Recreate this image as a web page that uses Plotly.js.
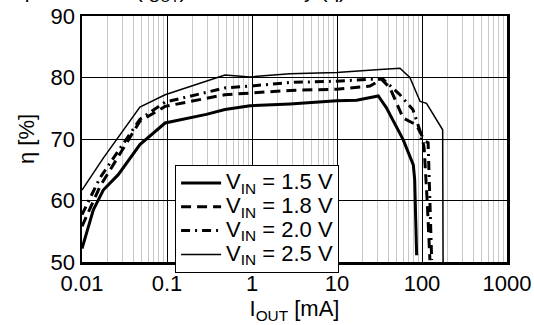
<!DOCTYPE html>
<html>
<head>
<meta charset="utf-8">
<script src="https://cdn.plot.ly/plotly-3.0.1.min.js"></script>
<style>html,body{margin:0;padding:0;background:#fff;}#chart{width:534px;height:325px;}</style>
</head>
<body>
<div id="chart"></div>
<script>
// Output current [mA] and efficiency [%] for each input voltage
const iout15 = [0.01, 0.0136, 0.0178, 0.0267, 0.048, 0.095, 0.29, 0.48, 0.95, 2.8, 9.9, 17, 30.6, 38, 60, 79, 82, 84, 86.5];
const eff15  = [52.2, 58.5, 61.7, 64.2, 69.1, 72.6, 74.0, 74.8, 75.4, 75.7, 76.2, 76.3, 77.0, 75.1, 69.9, 65.8, 63.4, 57, 51.1];

const iout18 = [0.01, 0.0163, 0.048, 0.095, 0.48, 0.95, 2.8, 9.9, 24.4, 33.6, 42, 60, 86, 100, 106, 115, 124];
const eff18  = [55.8, 62.3, 72.9, 75.3, 77.2, 77.5, 77.9, 78.1, 78.6, 79.7, 78.3, 73.4, 72.3, 70.5, 68.5, 60, 50.3];

const iout20 = [0.01, 0.0163, 0.048, 0.095, 0.48, 0.95, 2.8, 9.9, 24.4, 35, 55, 78, 95, 98, 118, 124, 130];
const eff20  = [57.7, 63.7, 73.2, 76.0, 78.3, 78.6, 79.2, 79.4, 79.7, 79.7, 77.2, 74.8, 71.3, 69.9, 69.4, 60, 50.3];

const iout25 = [0.01, 0.0178, 0.048, 0.095, 0.48, 0.95, 2.8, 9.9, 32, 55, 72, 95, 113, 175, 177];
const eff25  = [61.7, 66.9, 75.2, 77.2, 80.4, 80.1, 80.6, 80.8, 81.3, 81.5, 80.0, 76.1, 75.8, 71.5, 50];

const seriesNames = ['V<sub>IN</sub> = 1.5 V', 'V<sub>IN</sub> = 1.8 V', 'V<sub>IN</sub> = 2.0 V', 'V<sub>IN</sub> = 2.5 V'];
const xTickVals = [0.01, 0.1, 1, 10, 100, 1000];
const xTickText = ['0.01', '0.1', '1', '10', '100', '1000'];
const yTickVals = [50, 60, 70, 80, 90];

const font = 'Arial, "Liberation Sans", sans-serif';
const big = s => '<span style="font-size:22px">' + s + '</span>';

const traces = [
  {x: iout15, y: eff15, name: big(seriesNames[0]), mode: 'lines', line: {color: '#000', width: 3}},
  {x: iout18, y: eff18, name: big(seriesNames[1]), mode: 'lines', line: {color: '#000', width: 3, dash: '10px,6px'}},
  {x: iout20, y: eff20, name: big(seriesNames[2]), mode: 'lines', line: {color: '#000', width: 3, dash: '9px,5px,2px,5px'}},
  {x: iout25, y: eff25, name: big(seriesNames[3]), mode: 'lines', line: {color: '#000', width: 1.5}}
];

const layout = {
  width: 534, height: 325,
  margin: {l: 82, r: 27, t: 16, b: 63, pad: 0},
  paper_bgcolor: '#fff', plot_bgcolor: '#fff',
  font: {family: font, color: '#000', size: 22},
  showlegend: true,
  legend: {
    x: 0.219, y: 0.394, xanchor: 'left', yanchor: 'top',
    bgcolor: '#fff', bordercolor: '#000', borderwidth: 1,
    font: {family: font, size: 16, color: '#000'},
    tracegroupgap: 0, itemwidth: 40
  },
  xaxis: {
    type: 'log', range: [-2, 3],
    tickmode: 'array', tickvals: xTickVals, ticktext: xTickText,
    showgrid: true, gridcolor: '#000', gridwidth: 1,
    minor: {dtick: 'D1', showgrid: true, gridcolor: '#c8c8c8', gridwidth: 1, ticks: ''},
    showline: true, linecolor: '#000', linewidth: 2.5, mirror: true,
    ticks: '', zeroline: false,
    tickfont: {family: font, size: 22, color: '#000'},
    title: {text: 'I<sub>OUT</sub> [mA]', font: {family: font, size: 22, color: '#000'}, standoff: 6}
  },
  yaxis: {
    range: [50, 90],
    tickmode: 'array', tickvals: yTickVals,
    showgrid: true, gridcolor: '#000', gridwidth: 1,
    showline: true, linecolor: '#000', linewidth: 2.5, mirror: true,
    ticks: '', zeroline: false,
    tickfont: {family: font, size: 22, color: '#000'},
    title: {text: 'η [%]', font: {family: font, size: 22, color: '#000'}, standoff: 10}
  },
  annotations: [{
    text: 'Output Current (I<sub>OUT</sub>) vs. Efficiency (η)',
    xref: 'paper', yref: 'paper', x: -0.219, y: 1.037,
    xanchor: 'left', yanchor: 'bottom', showarrow: false,
    font: {family: font, size: 21, color: '#000'}
  }]
};

Plotly.newPlot('chart', traces, layout, {staticPlot: true, displayModeBar: false});
</script>
</body>
</html>
